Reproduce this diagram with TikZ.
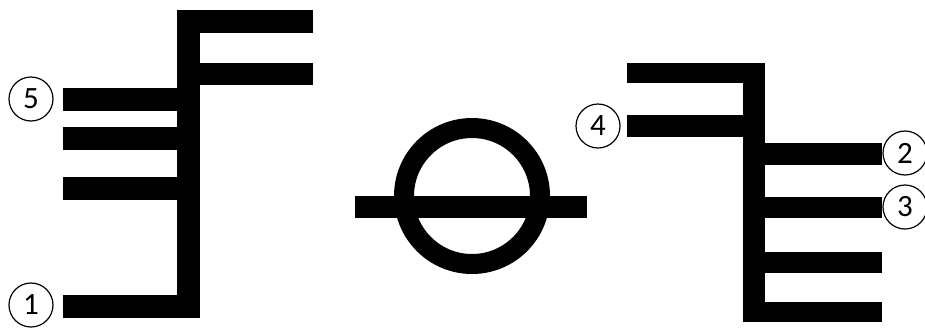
\documentclass[tikz,border=0pt]{standalone}
\usepackage{fontspec}
\setmainfont{Carlito}
\usepackage{tikz}
\usetikzlibrary{positioning}

\begin{document}
\begin{tikzpicture}[
    x=1pt, y=-1pt,
    bar/.style={fill=black},
    ring/.style={draw=black, line width=20pt},
    num/.style={draw, circle, line width=1.2pt, minimum size=44pt, inner sep=0pt, font=\fontsize{31}{31}\selectfont}
]
\useasboundingbox (0,0) rectangle (925,327);

% left piece
\fill[bar] (177,10) rectangle (200,318);
\fill[bar] (177,10) rectangle (313,33);
\fill[bar] (200,63) rectangle (313,85);
\fill[bar] (63,88) rectangle (177,111);
\fill[bar] (63,127) rectangle (177,150);
\fill[bar] (63,177) rectangle (177,200);
\fill[bar] (63,295) rectangle (200,318);

% middle symbol
\draw[ring] (472,196) circle (68);
\fill[bar] (355,196) rectangle (587,218);

% right piece
\fill[bar] (743,63) rectangle (765,322);
\fill[bar] (627,63) rectangle (765,83);
\fill[bar] (627,115) rectangle (743,137);
\fill[bar] (765,143) rectangle (882,165);
\fill[bar] (765,197) rectangle (882,218);
\fill[bar] (765,252) rectangle (882,273);
\fill[bar] (765,302) rectangle (882,322);

% labels
\node[num] (n5) at (31,99) {5};
\node[num] (n1) at (31,305) {1};
\node[num] (n4) at (598,126) {4};
\node[num] (n2) at (905,153) {2};
\node[num] (n3) at (905,207) {3};
\end{tikzpicture}
\end{document}
